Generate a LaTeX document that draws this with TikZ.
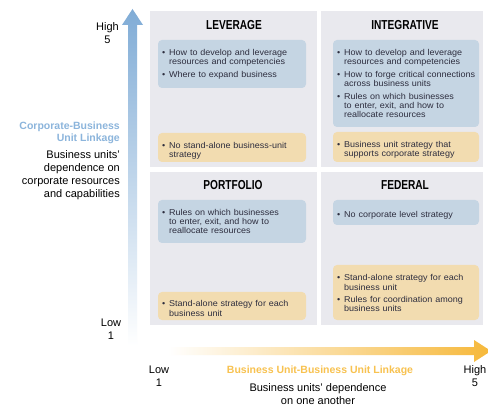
\documentclass[tikz,border=0pt]{standalone}
\usepackage{fontspec}
\setmainfont{Liberation Sans}
\newfontfamily\titlefont{Liberation Sans}[FakeStretch=0.78]
\newfontfamily\bodyfont{Liberation Sans}[FakeStretch=1.06]
\usetikzlibrary{positioning}

\definecolor{panelgray}{RGB}{233,233,238}
\definecolor{boxblue}{RGB}{197,213,227}
\definecolor{boxorange}{RGB}{242,220,176}
\definecolor{axisblue}{RGB}{128,172,214}
\definecolor{axisorange}{RGB}{246,184,58}
\definecolor{labelblue}{RGB}{140,181,220}
\definecolor{labelorange}{RGB}{248,194,80}
\definecolor{boxtext}{RGB}{45,45,62}

% one bullet point with hanging indent, no hyphenation
\newcommand{\bul}[1]{\par\hyphenpenalty=10000\relax\noindent\hangindent=7pt\hangafter=1\makebox[7pt][l]{\textbullet}#1\par}
\newcommand{\bgap}{\vspace{3.5pt}}

\begin{document}
\begin{tikzpicture}[x=1pt,y=-1pt,
  title/.style={font=\titlefont\bfseries\fontsize{13}{14}\selectfont},
  bultext/.style={anchor=north west, inner sep=0pt, text width=146pt, align=left,
    text=boxtext, font=\bodyfont\fontsize{8.5}{9.2}\selectfont},
  axislbl/.style={align=center, inner sep=0pt, font=\fontsize{11}{13.5}\selectfont},
  axisdesc/.style={inner sep=0pt, font=\fontsize{11}{13}\selectfont}]

  \fill[white] (0,0) rectangle (488,409);
  \useasboundingbox (0,0) rectangle (488,409);

  % quadrants
  \fill[panelgray] (150,11) rectangle (317,167);
  \fill[panelgray] (321,11) rectangle (483,167);
  \fill[panelgray] (150,172) rectangle (317,325);
  \fill[panelgray] (321,172) rectangle (483,325);

  \node[title] (levtitle) at (234,25) {LEVERAGE};
  \node[title] (integtitle) at (405,25) {INTEGRATIVE};
  \node[title] (porttitle) at (233,185) {PORTFOLIO};
  \node[title] (fedtitle) at (405,185) {FEDERAL};

  % leverage
  \fill[boxblue, rounded corners=4pt] (158,40) rectangle (306,88);
  \fill[boxorange, rounded corners=4pt] (158,133) rectangle (306,162);
  \node[bultext] (levcorp) at (162,46)
    {\bul{How to develop and leverage\newline resources and competencies}\bgap
     \bul{Where to expand business}};
  \node[bultext] (levunit) at (162,139)
    {\bul{No stand-alone business-unit\newline strategy}};

  % integrative
  \fill[boxblue, rounded corners=4pt] (333,40) rectangle (479,127);
  \fill[boxorange, rounded corners=4pt] (333,132) rectangle (479,162);
  \node[bultext] (integcorp) at (337,46)
    {\bul{How to develop and leverage\newline resources and competencies}\bgap
     \bul{How to forge critical connections\newline across business units}\bgap
     \bul{Rules on which businesses\newline to enter, exit, and how to\newline reallocate resources}};
  \node[bultext] (integunit) at (337,138)
    {\bul{Business unit strategy that\newline supports corporate strategy}};

  % portfolio
  \fill[boxblue, rounded corners=4pt] (158,200) rectangle (306,243);
  \fill[boxorange, rounded corners=4pt] (158,292) rectangle (306,320);
  \node[bultext] (portcorp) at (162,206)
    {\bul{Rules on which businesses\newline to enter, exit, and how to\newline reallocate resources}};
  \node[bultext] (portunit) at (162,297.5)
    {\bul{Stand-alone strategy for each\newline business unit}};

  % federal
  \fill[boxblue, rounded corners=4pt] (333,200) rectangle (479,225);
  \fill[boxorange, rounded corners=4pt] (333,265) rectangle (479,320);
  \node[bultext] (fedcorp) at (337,208)
    {\bul{No corporate level strategy}};
  \node[bultext] (fedunit) at (337,271.5)
    {\bul{Stand-alone strategy for each\newline business unit}\bgap
     \bul{Rules for coordination among\newline business units}};

  % vertical axis
  \shade[bottom color=white, top color=axisblue]
    (128,346) -- (128,25) -- (122,25) -- (132.5,9) -- (143,25) -- (137,25) -- (137,346) -- cycle;
  \node[axislbl] (vhigh) at (107.5,33) {High\\5};
  \node[axislbl] (vlow) at (111,329) {Low\\1};
  \node[anchor=north east, inner sep=0pt, align=right, text=labelblue,
    font=\bfseries\fontsize{10.5}{11.5}\selectfont] (vname) at (120,122)
    {Corporate-Business\\Unit Linkage};
  \node[axisdesc, anchor=north east, align=right] (vdesc) at (120,150)
    {Business units'\\dependence on\\corporate resources\\and capabilities};

  % horizontal axis
  \shade[left color=white, right color=axisorange]
    (168,347) -- (474,347) -- (474,340) -- (491,351) -- (474,362) -- (474,355) -- (168,355) -- cycle;
  \node[axislbl, font=\fontsize{11}{12.5}\selectfont] (hlow) at (159,376) {Low\\1};
  \node[axislbl, font=\fontsize{11}{12.5}\selectfont] (hhigh) at (475,376) {High\\5};
  \node[inner sep=0pt, text=labelorange, font=\bfseries\fontsize{10.5}{12}\selectfont]
    (hname) at (320,371) {Business Unit-Business Unit Linkage};
  \node[axisdesc, align=center, font=\fontsize{11}{12.5}\selectfont] (hdesc) at (318,394)
    {Business units' dependence\\on one another};
\end{tikzpicture}
\end{document}
